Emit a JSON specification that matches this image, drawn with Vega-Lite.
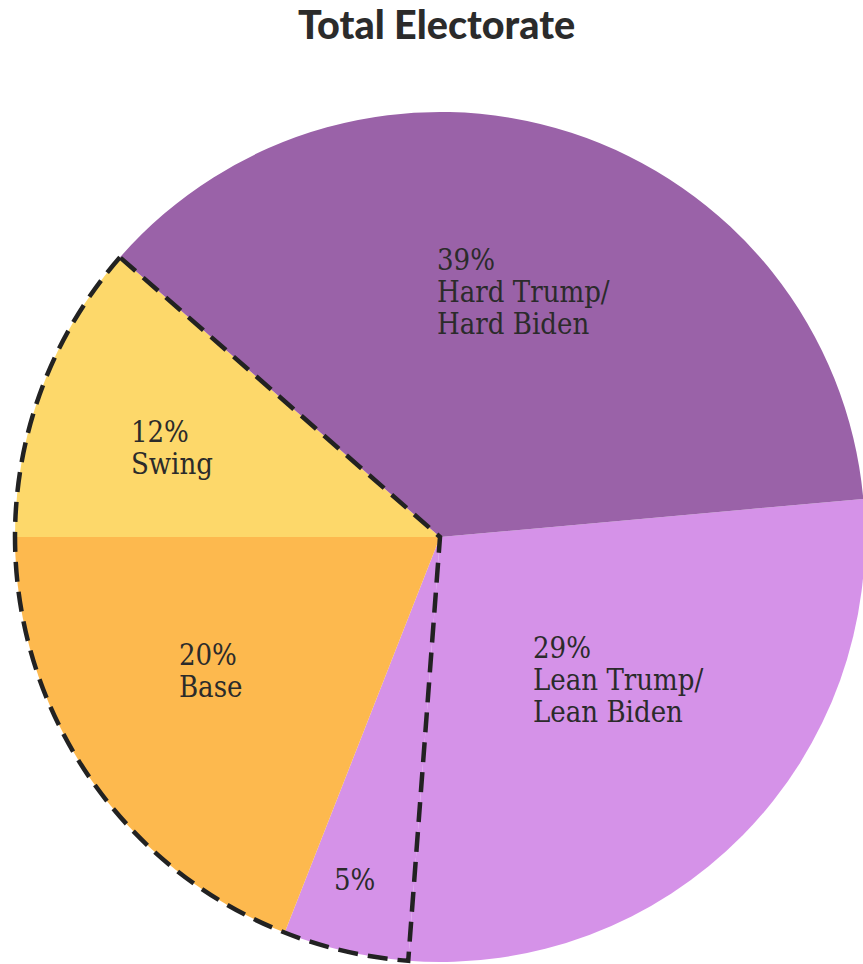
{
  "$schema": "https://vega.github.io/schema/vega-lite/v6.json",
  "width": 863,
  "height": 854,
  "autosize": {"type": "none"},
  "padding": {"top": 110, "left": 0, "right": 0, "bottom": 0},
  "background": "white",
  "title": {
    "text": "Total Electorate",
    "font": "Lato",
    "fontSize": 39.5,
    "fontWeight": 900,
    "color": "#2b2b2b",
    "anchor": "middle",
    "frame": "group",
    "baseline": "alphabetic",
    "offset": 32,
    "dx": 5
  },
  "config": {
    "view": {"stroke": null},
    "text": {
      "font": "DejaVu Serif Condensed",
      "fontSize": 29,
      "lineHeight": 32,
      "lineBreak": "\n",
      "color": "#2b2b2b",
      "align": "left",
      "baseline": "middle"
    }
  },
  "datasets": {
    "segments": [
      {"key": "Lean", "label": "29%\nLean Trump/\nLean Biden", "value": 29, "order": 1},
      {"key": "Undecided", "label": "5%", "value": 5, "order": 2},
      {"key": "Base", "label": "20%\nBase", "value": 20, "order": 3},
      {"key": "Swing", "label": "12%\nSwing", "value": 12, "order": 4},
      {"key": "Hard", "label": "39%\nHard Trump/\nHard Biden", "value": 39, "order": 5}
    ],
    "outline": [
      {"grp": "Lean", "value": 29, "order": 1},
      {"grp": "Persuadable", "value": 37, "order": 2},
      {"grp": "Hard", "value": 39, "order": 3}
    ]
  },
  "layer": [
    {
      "data": {"name": "segments"},
      "mark": {"type": "arc", "outerRadius": 425, "x": {"expr": "width/2+8.5"}},
      "encoding": {
        "theta": {"field": "value", "type": "quantitative", "stack": true, "scale": {"range": [1.4811, 7.7643]}},
        "order": {"field": "order", "type": "quantitative"},
        "color": {
          "field": "key",
          "type": "nominal",
          "scale": {
            "domain": ["Lean", "Undecided", "Base", "Swing", "Hard"],
            "range": ["#D592E8", "#D592E8", "#FDB94E", "#FDD86A", "#9A62A8"]
          },
          "legend": null
        }
      }
    },
    {
      "data": {"name": "outline"},
      "mark": {
        "type": "arc",
        "outerRadius": 425,
        "x": {"expr": "width/2+8.5"},
        "fillOpacity": 0,
        "stroke": "#222222",
        "strokeWidth": 4.5,
        "strokeDash": [20, 10],
        "strokeJoin": "miter"
      },
      "encoding": {
        "theta": {"field": "value", "type": "quantitative", "stack": true},
        "order": {"field": "order", "type": "quantitative"},
        "strokeOpacity": {"condition": {"test": "datum.grp === 'Persuadable'", "value": 1}, "value": 0}
      }
    },
    {
      "data": {"name": "segments"},
      "mark": {"type": "text", "x": {"expr": "width/2+8.5"}, "radius": 290.2, "dx": -92.7},
      "encoding": {
        "theta": {"field": "value", "type": "quantitative", "stack": true},
        "order": {"field": "order", "type": "quantitative"},
        "text": {"condition": {"test": "datum.key === 'Hard'", "field": "label"}, "value": ""}
      }
    },
    {
      "data": {"name": "segments"},
      "mark": {"type": "text", "x": {"expr": "width/2+8.5"}, "radius": 159.5, "dx": -20.6},
      "encoding": {
        "theta": {"field": "value", "type": "quantitative", "stack": true},
        "order": {"field": "order", "type": "quantitative"},
        "text": {"condition": {"test": "datum.key === 'Lean'", "field": "label"}, "value": ""}
      }
    },
    {
      "data": {"name": "segments"},
      "mark": {"type": "text", "x": {"expr": "width/2+8.5"}, "radius": 294.9, "dx": -33},
      "encoding": {
        "theta": {"field": "value", "type": "quantitative", "stack": true},
        "order": {"field": "order", "type": "quantitative"},
        "text": {"condition": {"test": "datum.key === 'Swing'", "field": "label"}, "value": ""}
      }
    },
    {
      "data": {"name": "segments"},
      "mark": {"type": "text", "x": {"expr": "width/2+8.5"}, "radius": 211.4, "dx": -86.4},
      "encoding": {
        "theta": {"field": "value", "type": "quantitative", "stack": true},
        "order": {"field": "order", "type": "quantitative"},
        "text": {"condition": {"test": "datum.key === 'Base'", "field": "label"}, "value": ""}
      }
    },
    {
      "data": {"name": "segments"},
      "mark": {"type": "text", "x": {"expr": "width/2+8.5"}, "radius": 352.8, "dx": -27.5},
      "encoding": {
        "theta": {"field": "value", "type": "quantitative", "stack": true},
        "order": {"field": "order", "type": "quantitative"},
        "text": {"condition": {"test": "datum.key === 'Undecided'", "field": "label"}, "value": ""}
      }
    }
  ]
}
